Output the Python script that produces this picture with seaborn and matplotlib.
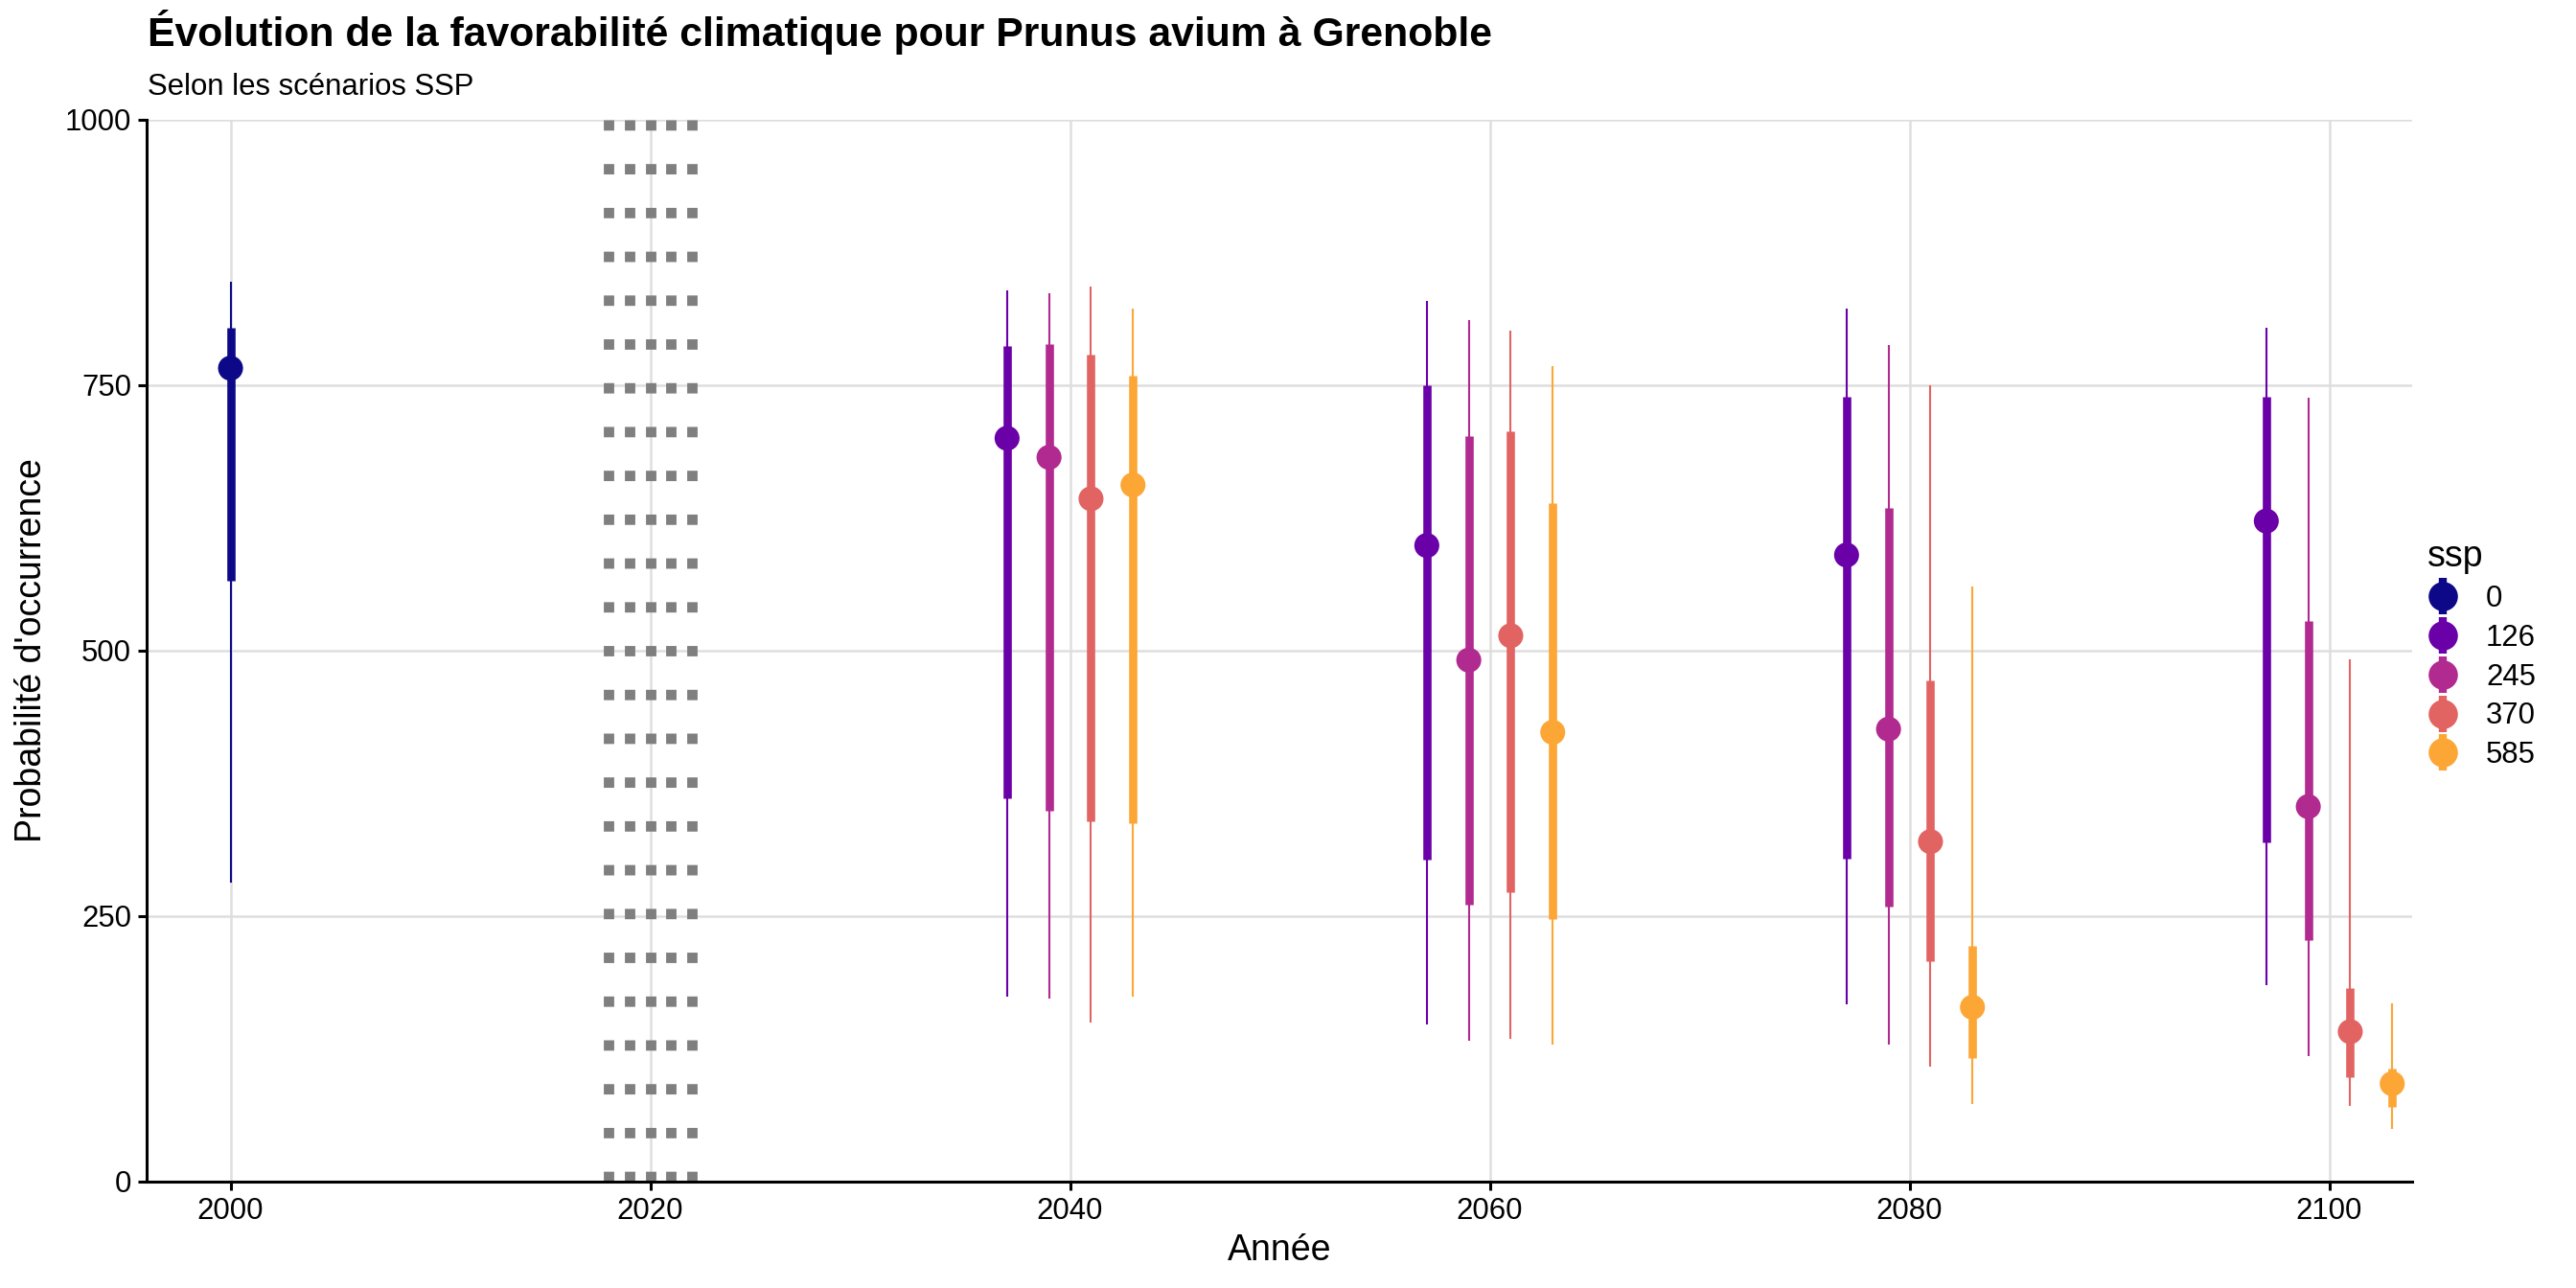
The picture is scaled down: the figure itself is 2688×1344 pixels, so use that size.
import numpy as np
import pandas as pd
import seaborn as sns
import matplotlib.pyplot as plt
from matplotlib.lines import Line2D

sns.set_theme(style="white")
plt.rcParams['font.family'] = ['Liberation Sans', 'DejaVu Sans']
plt.rcParams['text.color'] = 'black'
plt.rcParams['axes.labelcolor'] = 'black'

# données (médiane, intervalles 66 % et 95 %)
annees = [2000,
          2040, 2040, 2040, 2040,
          2060, 2060, 2060, 2060,
          2080, 2080, 2080, 2080,
          2100, 2100, 2100, 2100]
ssp = ['0',
       '126', '245', '370', '585',
       '126', '245', '370', '585',
       '126', '245', '370', '585',
       '126', '245', '370', '585']
mediane = [766,
           700, 682, 643, 656,
           599, 491, 514, 423,
           590, 426, 320, 164,
           622, 353, 141, 92]
bas_66 = [566,
          361, 349, 339, 337,
          303, 261, 272, 247,
          304, 259, 207, 116,
          319, 227, 98, 70]
haut_66 = [804,
           787, 789, 779, 759,
           750, 702, 707, 639,
           739, 634, 472, 222,
           739, 528, 182, 106]
bas_95 = [281,
          174, 172, 150, 174,
          148, 132, 134, 129,
          167, 129, 108, 73,
          185, 118, 71, 49]
haut_95 = [847,
           839, 837, 843, 822,
           829, 811, 801, 768,
           822, 788, 750, 560,
           804, 738, 492, 168]

niveaux_ssp = ['0', '126', '245', '370', '585']
couleurs = ['#0D0887', '#6A00A8', '#B12A90', '#E16462', '#FCA636']
palette = dict(zip(niveaux_ssp, couleurs))
annees_transition = [2018, 2019, 2020, 2021, 2022]

df = pd.DataFrame({'annee': annees, 'ssp': ssp, 'mediane': mediane,
                   'bas_66': bas_66, 'haut_66': haut_66,
                   'bas_95': bas_95, 'haut_95': haut_95})

# esquive horizontale (2 ans entre scénarios d'une même année)
rang = df.groupby('annee').cumcount()
n = df.groupby('annee')['ssp'].transform('count')
df['x'] = df['annee'] + (rang - (n - 1) / 2) * 2.0

fig = plt.figure(figsize=(13.44, 6.72), dpi=200)
ax = fig.add_axes([0.0569, 0.0828, 0.8795, 0.8242])

ax.set_xlim(1996.0, 2103.95)
ax.set_ylim(0, 1000)
ax.set_xticks([2000, 2020, 2040, 2060, 2080, 2100])
ax.set_yticks([0, 250, 500, 750, 1000])
ax.grid(True, color='#DEDEDE', linewidth=0.9)
ax.set_axisbelow(True)

for xv in annees_transition:
    ax.axvline(xv, color='#7F7F7F', linewidth=3.9,
               linestyle=(0, (1, 3.22)), dash_capstyle='butt', zorder=1.5)

for _, r in df.iterrows():
    c = palette[r['ssp']]
    ax.vlines(r['x'], r['bas_95'], r['haut_95'], color=c, linewidth=0.75, zorder=3)
    ax.vlines(r['x'], r['bas_66'], r['haut_66'], color=c, linewidth=3.1, zorder=3)

sns.scatterplot(data=df, x='x', y='mediane', hue='ssp', hue_order=niveaux_ssp,
                palette=palette, s=88, linewidth=0, legend=False, zorder=4, ax=ax)

sns.despine(ax=ax)
for sp in ['left', 'bottom']:
    ax.spines[sp].set_color('black')
    ax.spines[sp].set_linewidth(1.1)
ax.tick_params(axis='both', which='major', length=3.2, width=1.1, color='black',
               labelsize=11.2, labelcolor='black', pad=2.5, bottom=True, left=True)

ax.set_xlabel('Année', fontsize=13.5, labelpad=3)
ax.set_ylabel("Probabilité d'occurrence", fontsize=13.5, labelpad=6)

fig.text(154 / 2688, 1 - 48 / 1344,
         'Évolution de la favorabilité climatique pour Prunus avium à Grenoble',
         fontsize=15.4, fontweight='bold', va='baseline', ha='left')
fig.text(154 / 2688, 1 - 99 / 1344, 'Selon les scénarios SSP',
         fontsize=11.2, va='baseline', ha='left')

# légende : point + trait vertical
poignees = []
for c in couleurs:
    trait = Line2D([], [], color=c, marker='|', markersize=14, markeredgewidth=3,
                   linestyle='none')
    point = Line2D([], [], color=c, marker='o', markersize=10, linestyle='none')
    poignees.append((trait, point))
leg = ax.legend(poignees, niveaux_ssp, title='ssp', loc='upper left',
                bbox_to_anchor=(0.995, 0.630), frameon=False, fontsize=11.2,
                title_fontsize=13.5, handlelength=1.0, handletextpad=0.95,
                labelspacing=0.35, alignment='left')

fig.savefig('out.png', dpi=200)
